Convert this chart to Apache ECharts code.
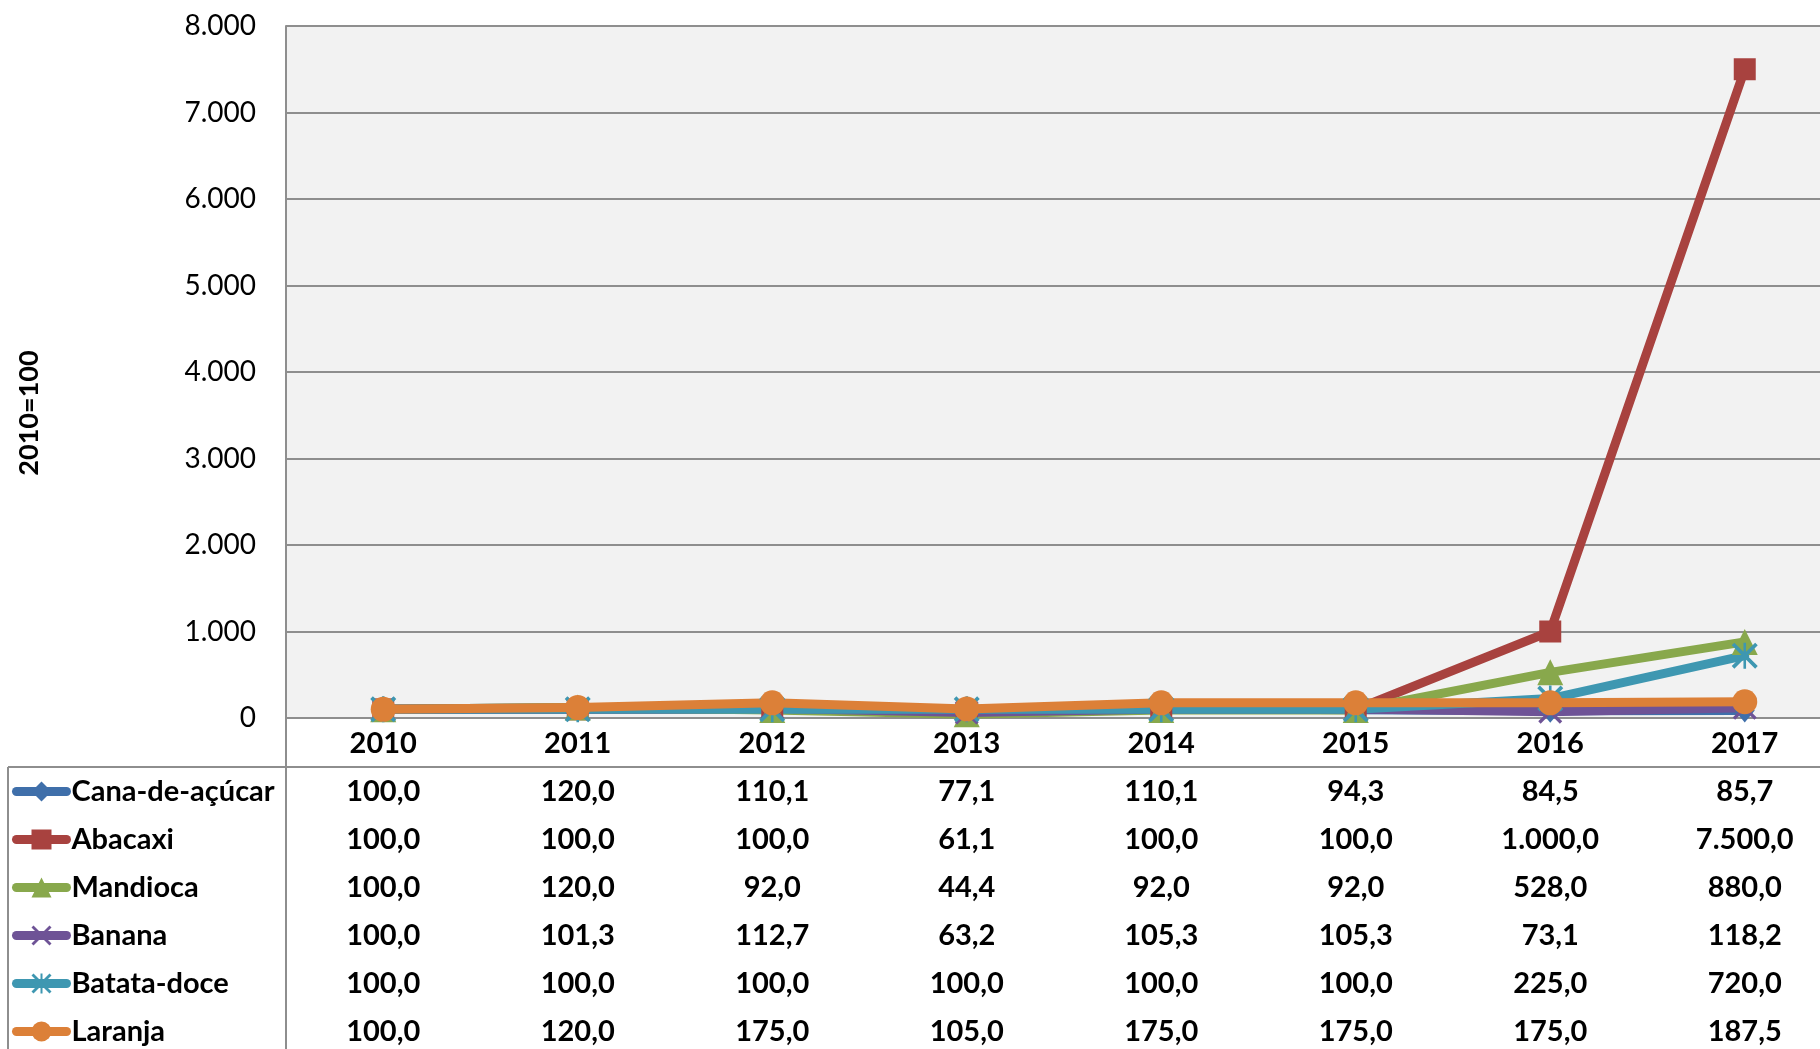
<!DOCTYPE html>
<html>
<head>
<meta charset="utf-8">
<script src="https://cdn.jsdelivr.net/npm/echarts@6/dist/echarts.min.js"></script>
<style>
  html, body { margin: 0; padding: 0; background: #fff; }
  #chart { width: 1820px; height: 1049px; }
</style>
</head>
<body>
<div id="chart"></div>
<script>
var years = ['2010', '2011', '2012', '2013', '2014', '2015', '2016', '2017'];
var names = ['Cana-de-açúcar', 'Abacaxi', 'Mandioca', 'Banana', 'Batata-doce', 'Laranja'];
var cana = [100.0, 120.0, 110.1, 77.1, 110.1, 94.3, 84.5, 85.7];
var abacaxi = [100.0, 100.0, 100.0, 61.1, 100.0, 100.0, 1000.0, 7500.0];
var mandioca = [100.0, 120.0, 92.0, 44.4, 92.0, 92.0, 528.0, 880.0];
var banana = [100.0, 101.3, 112.7, 63.2, 105.3, 105.3, 73.1, 118.2];
var batata = [100.0, 100.0, 100.0, 100.0, 100.0, 100.0, 225.0, 720.0];
var laranja = [100.0, 120.0, 175.0, 105.0, 175.0, 175.0, 175.0, 187.5];
var yTicks = { min: 0, max: 8000, step: 1000 };

var rows = [cana, abacaxi, mandioca, banana, batata, laranja];
var colors = ['#3F6FAA', '#A8423F', '#88A84C', '#6E5396', '#3E97B1', '#DC8038'];
var symbols = [
  'diamond',
  'rect',
  'triangle',
  'path://M0,1 L1,0 L10,9 L9,10 Z M9,0 L10,1 L1,10 L0,9 Z',
  'path://M0,1 L1,0 L10,9 L9,10 Z M9,0 L10,1 L1,10 L0,9 Z M4.5,0 L5.5,0 L5.5,10 L4.5,10 Z',
  'circle'
];
var symbolSizes = [[20, 24], 22, 26, 24, 26, 25];

var FONT = 'Lato';
var GRAY = '#8E8E8E';
var ROW_H = 48;

function thousands(s) {
  return s.replace(/\B(?=(\d{3})+(?!\d))/g, '.');
}
function fmtTable(v) {
  var p = v.toFixed(1).split('.');
  return thousands(p[0]) + ',' + p[1];
}

var chart = echarts.init(document.getElementById('chart'));

var xAxes = [{
  type: 'category',
  data: years,
  position: 'bottom',
  axisLine: { show: true, onZero: false, lineStyle: { color: GRAY, width: 2 } },
  axisTick: { show: false },
  splitLine: { show: false },
  axisLabel: {
    interval: 0, margin: 11, color: '#000',
    fontFamily: FONT, fontWeight: 'bold', fontSize: 29
  }
}];

// data table rows, one hidden axis per series
rows.forEach(function (row, i) {
  xAxes.push({
    type: 'category',
    data: years,
    position: 'bottom',
    offset: 48.5 + ROW_H * i,
    axisLine: { show: false },
    axisTick: { show: false },
    splitLine: { show: false },
    axisLabel: {
      interval: 0, margin: 11, color: '#000',
      fontFamily: FONT, fontWeight: 'bold', fontSize: 29,
      formatter: function (v, idx) { return fmtTable(row[idx]); }
    }
  });
});

// one legend per row so each lines up with its table row
var legends = names.map(function (n, i) {
  return {
    orient: 'vertical',
    left: 12, top: 777 + ROW_H * i,
    padding: 0,
    itemWidth: 50, itemHeight: 25,
    data: [n],
    lineStyle: { width: 9, cap: 'round' },
    textStyle: {
      fontFamily: FONT, fontWeight: 'bold', fontSize: 29, color: '#000'
    },
    selectedMode: false
  };
});

var series = rows.map(function (row, i) {
  return {
    name: names[i],
    type: 'line',
    xAxisIndex: 0,
    data: row,
    symbol: symbols[i],
    symbolSize: symbolSizes[i],
    showSymbol: true,
    animation: false,
    lineStyle: { color: colors[i], width: 9, cap: 'round', join: 'round' },
    itemStyle: { color: colors[i], opacity: 1 }
  };
});

var option = {
  backgroundColor: '#fff',
  animation: false,
  color: colors,
  grid: {
    left: 286, top: 26, width: 1556, bottom: 331,
    outerBoundsMode: 'none',
    show: true, backgroundColor: '#F2F2F2', borderWidth: 0
  },
  legend: legends,
  xAxis: xAxes,
  yAxis: {
    type: 'value',
    min: yTicks.min, max: yTicks.max, interval: yTicks.step,
    name: '2010=100',
    nameLocation: 'middle',
    nameGap: 243,
    nameTextStyle: {
      fontFamily: FONT, fontWeight: 'bold', fontSize: 27, color: '#000',
      padding: [0, 82, 0, 0]
    },
    axisLine: { show: true, lineStyle: { color: GRAY, width: 2 } },
    axisTick: { show: false },
    splitLine: { lineStyle: { color: GRAY, width: 2 } },
    axisLabel: {
      margin: 30, color: '#000',
      fontFamily: FONT, fontSize: 28,
      formatter: function (v) { return thousands(String(v)); }
    }
  },
  graphic: [
    // data table frame
    { type: 'line', shape: { x1: 8, y1: 767, x2: 1820, y2: 767 }, style: { stroke: GRAY, lineWidth: 2 }, silent: true },
    { type: 'line', shape: { x1: 8, y1: 767, x2: 8, y2: 1049 }, style: { stroke: GRAY, lineWidth: 2 }, silent: true },
    { type: 'line', shape: { x1: 286, y1: 718, x2: 286, y2: 1049 }, style: { stroke: GRAY, lineWidth: 2 }, silent: true }
  ],
  series: series
};

chart.setOption(option);
</script>
</body>
</html>
